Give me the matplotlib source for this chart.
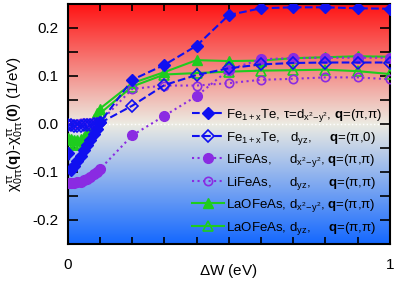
import matplotlib
matplotlib.use('Agg')
import matplotlib.pyplot as plt
import numpy as np
from matplotlib.colors import LinearSegmentedColormap
from matplotlib.ticker import MultipleLocator, FixedLocator

plt.rcParams['font.family'] = ['Liberation Sans', 'DejaVu Sans']
plt.rcParams['mathtext.fontset'] = 'custom'
plt.rcParams['mathtext.rm'] = 'Liberation Sans'
plt.rcParams['mathtext.it'] = 'Liberation Sans:italic'
plt.rcParams['mathtext.bf'] = 'Liberation Sans:bold'
plt.rcParams['mathtext.default'] = 'regular'
plt.rcParams['axes.unicode_minus'] = False

# data
dw = [0.0, 0.01, 0.02, 0.03, 0.04, 0.05, 0.06, 0.07, 0.08, 0.09, 0.1,
      0.2, 0.3, 0.4, 0.5, 0.6, 0.7, 0.8, 0.9, 1.0]
fe_x2y2 = [-0.06, -0.095, -0.088, -0.078, -0.066, -0.055, -0.044, -0.033, -0.022, -0.011, 0.003,
           0.092, 0.123, 0.163, 0.227, 0.241, 0.243, 0.243, 0.241, 0.240]
fe_yz = [-0.002, -0.003, -0.004, -0.004, -0.004, -0.003, -0.003, -0.002, -0.001, 0.0, 0.002,
         0.038, 0.081, 0.102, 0.116, 0.124, 0.127, 0.128, 0.128, 0.128]
li_x2y2 = [-0.124, -0.124, -0.123, -0.122, -0.12, -0.117, -0.114, -0.11, -0.105, -0.1, -0.094,
           -0.024, 0.017, 0.058, 0.113, 0.135, 0.137, 0.138, 0.138, 0.138]
li_yz = [-0.001, -0.001, 0.0, 0.0, 0.001, 0.001, 0.002, 0.002, 0.003, 0.003, 0.004,
         0.073, 0.080, 0.080, 0.085, 0.092, 0.094, 0.097, 0.097, 0.093]
la_x2y2 = [-0.03, -0.032, -0.033, -0.033, -0.032, -0.028, -0.018, -0.004, 0.01, 0.022, 0.032,
           0.085, 0.108, 0.133, 0.131, 0.132, 0.137, 0.139, 0.141, 0.140]
la_yz = [-0.04, -0.042, -0.043, -0.043, -0.042, -0.038, -0.028, -0.014, 0.0, 0.012, 0.022,
         0.078, 0.103, 0.106, 0.109, 0.111, 0.112, 0.113, 0.110, 0.104]

labels = [r'Fe$_{1+x}$Te, $\tau$=d$_{x^2\!-\!y^2}$, $\mathbf{q}$=($\pi$,$\pi$)',
          r'Fe$_{1+x}$Te,   d$_{yz}$,     $\mathbf{q}$=($\pi$,0)',
          r'LiFeAs,     d$_{x^2\!-\!y^2}$, $\mathbf{q}$=($\pi$,$\pi$)',
          r'LiFeAs,     d$_{yz}$,     $\mathbf{q}$=($\pi$,$\pi$)',
          r'LaOFeAs, d$_{x^2\!-\!y^2}$, $\mathbf{q}$=($\pi$,$\pi$)',
          r'LaOFeAs, d$_{yz}$,     $\mathbf{q}$=($\pi$,$\pi$)']

blue = '#1010f0'
purple = '#8a2be2'
green = '#1ecc1e'

fig = plt.figure(figsize=(3.99, 2.82), dpi=100)
ax = fig.add_axes([0.170, 0.135, 0.807, 0.851])

cmap = LinearSegmentedColormap.from_list('bg', [(0.0, '#1468ff'), (0.5, '#ecebe2'), (1.0, '#ff1414')])
ax.imshow(np.linspace(0, 1, 256).reshape(-1, 1), cmap=cmap, origin='lower', aspect='auto',
          extent=[0, 1, -0.25, 0.25], zorder=0)
ax.axhline(0, color='white', lw=1, ls=':', zorder=1)

ax.plot(dw, la_yz, '-', color=green, lw=1.5, marker='^', ms=7, mfc='none', mew=1.2, label=labels[5], zorder=3)
ax.plot(dw, la_x2y2, '-', color=green, lw=1.5, marker='^', ms=7, label=labels[4], zorder=3)
ax.plot(dw, li_yz, ':', color=purple, lw=1.5, marker='o', ms=6, mfc='none', mew=1.2, label=labels[3], zorder=4)
ax.plot(dw, li_x2y2, ':', color=purple, lw=1.5, marker='o', ms=7, label=labels[2], zorder=4)
ax.plot(dw, fe_yz, '--', color=blue, lw=1.5, marker='D', ms=6, mfc='none', mew=1.2, label=labels[1], zorder=5)
ax.plot(dw, fe_x2y2, '--', color=blue, lw=1.5, marker='D', ms=6, label=labels[0], zorder=5)

ax.set_xlim(0, 1)
ax.set_ylim(-0.25, 0.25)
ax.xaxis.set_major_locator(FixedLocator([0, 1]))
ax.xaxis.set_minor_locator(MultipleLocator(0.1))
ax.yaxis.set_major_locator(FixedLocator([-0.2, -0.1, 0.0, 0.1, 0.2]))
ax.yaxis.set_minor_locator(MultipleLocator(0.05))
ax.set_yticklabels(['-0.2', '-0.1', '0.0', '0.1', '0.2'])
ax.set_xticklabels(['0', '1'])
ax.tick_params(which='both', direction='in', top=True, right=True, width=1.2, labelsize=11)
ax.tick_params(axis='y', which='both', length=7, pad=7)
ax.tick_params(axis='x', which='both', length=5, pad=10)
for s in ax.spines.values():
    s.set_linewidth(1.5)

ax.set_xlabel(r'$\Delta$W (eV)', fontsize=11, labelpad=-7)
ax.set_ylabel(r'$\chi^{\tau\tau}_{0\tau\tau}$($\mathbf{q}$)-$\chi^{\tau\tau}_{0\tau\tau}$($\mathbf{0}$) (1/eV)',
              fontsize=11, labelpad=4)

h, l = ax.get_legend_handles_labels()
ax.legend(h[::-1], l[::-1], loc='lower right', frameon=False, fontsize=9.5, handlelength=2.4,
          handletextpad=0.2, labelspacing=0.42, borderaxespad=0.15)

fig.savefig('out.png', dpi=100)
